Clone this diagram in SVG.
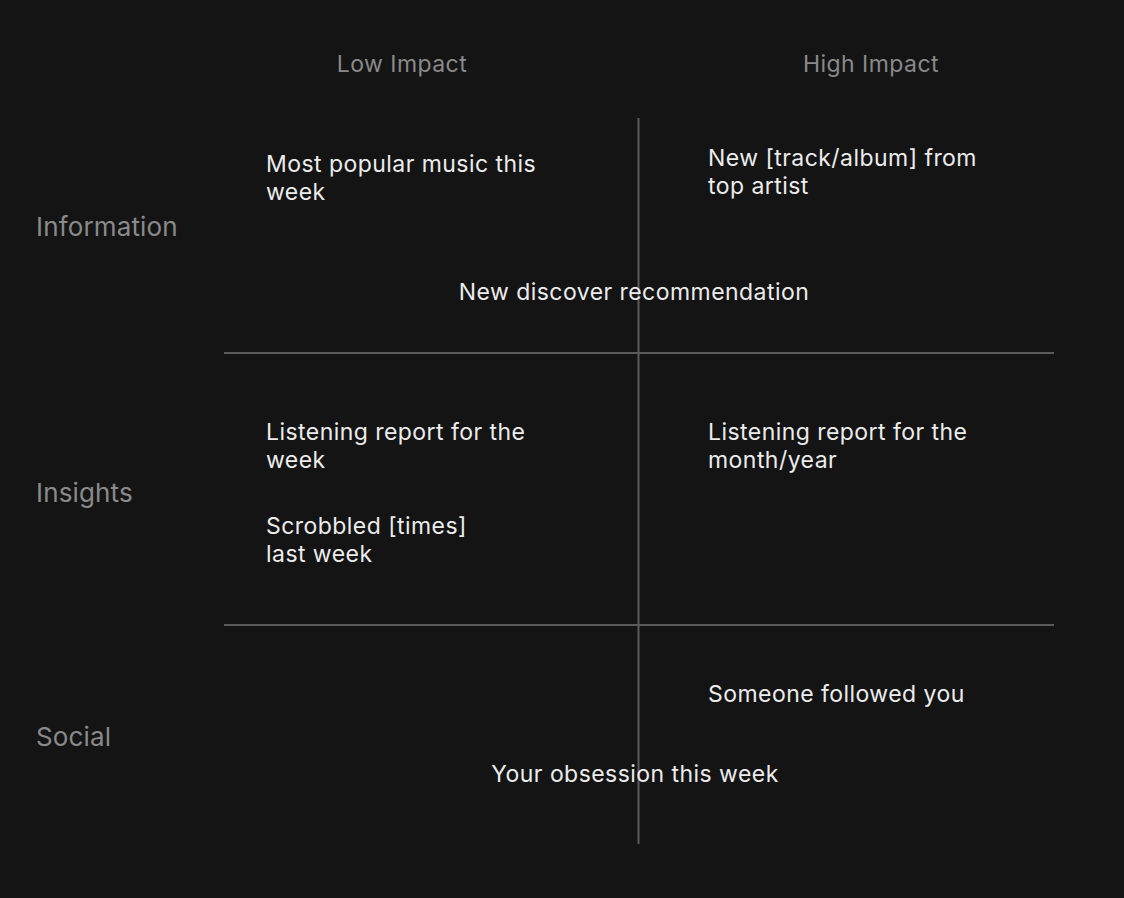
<svg xmlns="http://www.w3.org/2000/svg" width="1124" height="898" viewBox="0 0 1124 898">
  <style>
    .col { font-family: Inter, "Noto Sans", sans-serif; font-size: 23px; letter-spacing: 0.45px; fill: #8a8a8a; }
    .row { font-family: Inter, "Noto Sans", sans-serif; font-size: 26px; letter-spacing: 0.15px; fill: #8a8a8a; }
    .item { font-family: Inter, "Noto Sans", sans-serif; font-size: 23px; letter-spacing: 0.45px; fill: #ececec; }
    .grid { stroke: #5a5a5a; stroke-width: 2; fill: none; }
  </style>
  <rect width="1124" height="898" fill="#141414"/>

  <!-- quadrant grid -->
  <g id="connectors">
    <line class="grid" x1="638.5" y1="118" x2="638.5" y2="844"/>
    <line class="grid" x1="224" y1="353" x2="1054" y2="353"/>
    <line class="grid" x1="224" y1="625" x2="1054" y2="625"/>
  </g>

  <!-- column headers -->
  <g id="col-low"><text class="col" x="402" y="72" text-anchor="middle">Low Impact</text></g>
  <g id="col-high"><text class="col" x="871" y="72" text-anchor="middle">High Impact</text></g>

  <!-- row headers -->
  <g id="row-information"><text class="row" x="36" y="236">Information</text></g>
  <g id="row-insights"><text class="row" x="36" y="502">Insights</text></g>
  <g id="row-social"><text class="row" x="36" y="746">Social</text></g>

  <!-- items -->
  <g id="most-popular"><text class="item" x="266" y="172">Most popular music this<tspan x="266" dy="28">week</tspan></text></g>
  <g id="new-release"><text class="item" x="708" y="166">New [track/album] from<tspan x="708" dy="28">top artist</tspan></text></g>
  <g id="discover"><text class="item" x="634" y="300" text-anchor="middle">New discover recommendation</text></g>
  <g id="report-week"><text class="item" x="266" y="440">Listening report for the<tspan x="266" dy="28">week</tspan></text></g>
  <g id="report-month"><text class="item" x="708" y="440">Listening report for the<tspan x="708" dy="28">month/year</tspan></text></g>
  <g id="scrobbled"><text class="item" x="266" y="534">Scrobbled [times]<tspan x="266" dy="28">last week</tspan></text></g>
  <g id="followed"><text class="item" x="708" y="702">Someone followed you</text></g>
  <g id="obsession"><text class="item" x="635" y="782" text-anchor="middle">Your obsession this week</text></g>
</svg>
